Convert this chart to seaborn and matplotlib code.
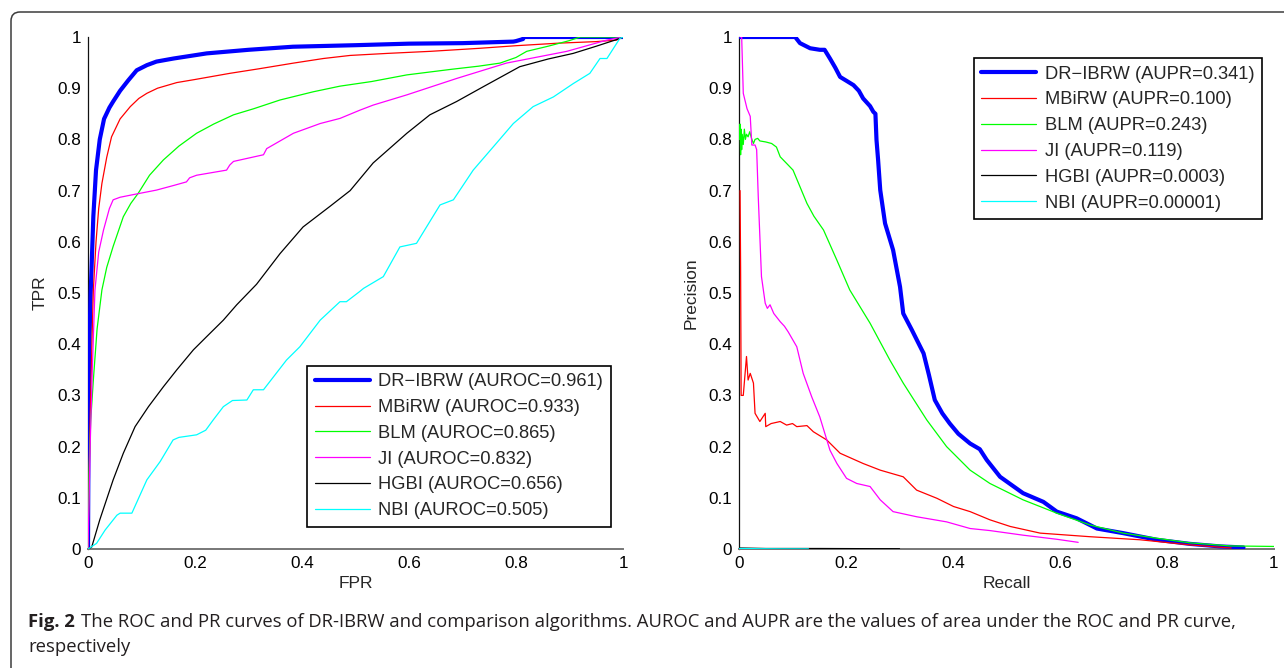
import matplotlib
matplotlib.use("Agg")
import matplotlib.pyplot as plt
import seaborn as sns
import numpy as np
import pandas as pd
from matplotlib.patches import FancyBboxPatch
from matplotlib.transforms import IdentityTransform

# ---------------- data ----------------
methods = ["DR\u2212IBRW", "MBiRW", "BLM", "JI", "HGBI", "NBI"]
auroc_labels = ["0.961", "0.933", "0.865", "0.832", "0.656", "0.505"]
aupr_labels = ["0.341", "0.100", "0.243", "0.119", "0.0003", "0.00001"]
colors = ["#0000FF", "#FF0000", "#00FF00", "#FF00FF", "#000000", "#00FFFF"]

# ROC curves (FPR, TPR)
roc_dribrw_x = [0, 0.001, 0.003, 0.005, 0.007, 0.010, 0.015, 0.022, 0.030, 0.040, 0.047, 0.060, 0.075, 0.091,
                0.110, 0.128, 0.160, 0.222, 0.300, 0.383, 0.500, 0.600, 0.700, 0.795, 0.800, 0.813, 0.815, 1.0]
roc_dribrw_y = [0, 0.25, 0.42, 0.50, 0.56, 0.65, 0.74, 0.80, 0.84, 0.862, 0.874, 0.895, 0.915, 0.935,
                0.945, 0.952, 0.958, 0.968, 0.975, 0.981, 0.984, 0.987, 0.988, 0.991, 0.992, 0.996, 1.0, 1.0]

roc_mbirw_x = [0, 0.002, 0.005, 0.008, 0.010, 0.015, 0.020, 0.026, 0.035, 0.044, 0.060, 0.079, 0.095, 0.110,
               0.130, 0.166, 0.200, 0.265, 0.320, 0.384, 0.440, 0.490, 0.560, 0.640, 0.733, 0.800, 0.880,
               0.950, 0.988, 1.0]
roc_mbirw_y = [0, 0.15, 0.30, 0.43, 0.506, 0.60, 0.665, 0.714, 0.765, 0.805, 0.840, 0.864, 0.880, 0.890,
               0.900, 0.911, 0.917, 0.929, 0.938, 0.949, 0.958, 0.964, 0.968, 0.972, 0.978, 0.983, 0.988,
               0.991, 0.994, 1.0]

roc_blm_x = [0, 0.002, 0.005, 0.010, 0.017, 0.026, 0.035, 0.047, 0.066, 0.080, 0.094, 0.115, 0.141, 0.170,
             0.203, 0.235, 0.272, 0.310, 0.359, 0.421, 0.471, 0.530, 0.596, 0.680, 0.730, 0.770, 0.800,
             0.820, 0.860, 0.900, 0.920, 1.0]
roc_blm_y = [0, 0.15, 0.25, 0.33, 0.43, 0.506, 0.55, 0.591, 0.649, 0.675, 0.695, 0.730, 0.760, 0.787,
             0.812, 0.830, 0.848, 0.860, 0.877, 0.893, 0.904, 0.913, 0.926, 0.937, 0.943, 0.949, 0.960,
             0.972, 0.982, 0.993, 1.0, 1.0]

roc_ji_x = [0, 0.004, 0.008, 0.013, 0.020, 0.029, 0.040, 0.047, 0.060, 0.079, 0.128, 0.160, 0.184, 0.190,
            0.203, 0.259, 0.265, 0.272, 0.328, 0.334, 0.384, 0.434, 0.471, 0.508, 0.533, 0.596, 0.689,
            0.782, 0.895, 0.970, 1.0]
roc_ji_y = [0, 0.20, 0.35, 0.506, 0.58, 0.623, 0.665, 0.682, 0.687, 0.691, 0.701, 0.710, 0.717, 0.725,
            0.730, 0.740, 0.750, 0.757, 0.770, 0.782, 0.812, 0.831, 0.841, 0.857, 0.867, 0.887, 0.919,
            0.949, 0.972, 0.994, 1.0]

roc_hgbi_x = [0, 0.007, 0.022, 0.047, 0.066, 0.088, 0.113, 0.141, 0.166, 0.197, 0.222, 0.253, 0.278, 0.315,
              0.359, 0.402, 0.452, 0.490, 0.533, 0.596, 0.639, 0.689, 0.739, 0.807, 0.860, 0.907, 0.950,
              0.994, 1.0]
roc_hgbi_y = [0, 0.004, 0.057, 0.135, 0.187, 0.239, 0.278, 0.317, 0.350, 0.389, 0.415, 0.447, 0.477, 0.517,
              0.577, 0.629, 0.669, 0.700, 0.754, 0.812, 0.848, 0.874, 0.903, 0.942, 0.957, 0.968, 0.982,
              0.997, 1.0]

roc_nbi_x = [0, 0.016, 0.032, 0.054, 0.060, 0.082, 0.110, 0.135, 0.159, 0.170, 0.203, 0.220, 0.234, 0.253,
             0.270, 0.297, 0.309, 0.328, 0.371, 0.396, 0.434, 0.471, 0.483, 0.508, 0.515, 0.552, 0.583,
             0.614, 0.658, 0.683, 0.720, 0.758, 0.795, 0.832, 0.870, 0.907, 0.938, 0.957, 0.970, 0.994, 1.0]
roc_nbi_y = [0, 0.011, 0.037, 0.066, 0.070, 0.070, 0.135, 0.171, 0.213, 0.218, 0.223, 0.232, 0.252, 0.278,
             0.290, 0.291, 0.311, 0.311, 0.369, 0.395, 0.447, 0.483, 0.483, 0.503, 0.509, 0.532, 0.590,
             0.597, 0.672, 0.682, 0.740, 0.786, 0.831, 0.864, 0.883, 0.909, 0.929, 0.958, 0.958, 0.997, 1.0]

# PR curves (Recall, Precision)
pr_dribrw_x = [0.002, 0.105, 0.114, 0.133, 0.151, 0.160, 0.170, 0.180, 0.189, 0.200, 0.214, 0.224, 0.232,
               0.245, 0.251, 0.255, 0.257, 0.260, 0.264, 0.273, 0.288, 0.301, 0.307, 0.323, 0.345, 0.355,
               0.366, 0.380, 0.394, 0.410, 0.432, 0.450, 0.463, 0.488, 0.531, 0.569, 0.594, 0.631, 0.669,
               0.718, 0.781, 0.843, 0.900, 0.943]
pr_dribrw_y = [1.0, 1.0, 0.988, 0.978, 0.975, 0.975, 0.958, 0.940, 0.922, 0.915, 0.906, 0.895, 0.880,
               0.865, 0.854, 0.850, 0.799, 0.760, 0.701, 0.636, 0.584, 0.512, 0.460, 0.428, 0.382, 0.340,
               0.291, 0.265, 0.245, 0.225, 0.206, 0.195, 0.174, 0.141, 0.109, 0.092, 0.073, 0.060, 0.040,
               0.031, 0.018, 0.010, 0.005, 0.003]

pr_mbirw_x = [0.002, 0.003, 0.004, 0.008, 0.014, 0.017, 0.021, 0.027, 0.030, 0.039, 0.049, 0.050, 0.060,
              0.077, 0.089, 0.100, 0.108, 0.127, 0.139, 0.164, 0.189, 0.232, 0.264, 0.307, 0.332, 0.370,
              0.401, 0.432, 0.469, 0.507, 0.563, 0.656, 0.750, 0.843, 0.905, 0.920]
pr_mbirw_y = [0.70, 0.55, 0.30, 0.30, 0.376, 0.33, 0.343, 0.324, 0.265, 0.249, 0.265, 0.239, 0.245,
              0.249, 0.242, 0.245, 0.239, 0.241, 0.229, 0.213, 0.187, 0.167, 0.154, 0.141, 0.115, 0.099,
              0.083, 0.073, 0.057, 0.044, 0.031, 0.024, 0.018, 0.008, 0.003, 0.002]

pr_blm_x = [0.001, 0.002, 0.003, 0.004, 0.005, 0.006, 0.008, 0.010, 0.012, 0.014, 0.017, 0.020, 0.024,
            0.027, 0.030, 0.035, 0.039, 0.050, 0.061, 0.070, 0.077, 0.090, 0.101, 0.115, 0.127, 0.140,
            0.158, 0.183, 0.207, 0.245, 0.282, 0.307, 0.351, 0.388, 0.432, 0.469, 0.531, 0.594, 0.656,
            0.718, 0.781, 0.843, 0.918, 1.0]
pr_blm_y = [0.80, 0.83, 0.77, 0.82, 0.78, 0.81, 0.79, 0.82, 0.80, 0.81, 0.805, 0.815, 0.80, 0.792, 0.80,
            0.802, 0.797, 0.795, 0.792, 0.785, 0.766, 0.752, 0.740, 0.705, 0.675, 0.650, 0.623, 0.564,
            0.506, 0.441, 0.369, 0.324, 0.252, 0.200, 0.154, 0.128, 0.096, 0.070, 0.047, 0.031, 0.021,
            0.012, 0.006, 0.005]

pr_ji_x = [0.002, 0.005, 0.008, 0.015, 0.021, 0.024, 0.030, 0.033, 0.036, 0.042, 0.049, 0.053, 0.058,
           0.065, 0.077, 0.085, 0.092, 0.108, 0.120, 0.136, 0.151, 0.170, 0.183, 0.201, 0.220, 0.245,
           0.264, 0.288, 0.332, 0.388, 0.432, 0.469, 0.531, 0.594, 0.634]
pr_ji_y = [1.0, 1.0, 0.89, 0.86, 0.845, 0.789, 0.789, 0.78, 0.688, 0.532, 0.480, 0.470, 0.477, 0.460,
           0.444, 0.435, 0.424, 0.395, 0.343, 0.297, 0.258, 0.193, 0.167, 0.138, 0.128, 0.122, 0.096,
           0.073, 0.063, 0.053, 0.040, 0.036, 0.027, 0.019, 0.013]

pr_hgbi_x = [0.0, 0.05, 0.10, 0.15, 0.20, 0.25, 0.30]
pr_hgbi_y = [0.002, 0.001, 0.001, 0.001, 0.0008, 0.0006, 0.0005]

pr_nbi_x = [0.0, 0.04, 0.08, 0.13]
pr_nbi_y = [0.001, 0.0005, 0.0003, 0.0002]

xticks = [0, 0.2, 0.4, 0.6, 0.8, 1]
xtick_labels = ["0", "0.2", "0.4", "0.6", "0.8", "1"]
yticks = [0, 0.1, 0.2, 0.3, 0.4, 0.5, 0.6, 0.7, 0.8, 0.9, 1]
ytick_labels = ["0", "0.1", "0.2", "0.3", "0.4", "0.5", "0.6", "0.7", "0.8", "0.9", "1"]

caption_bold = "Fig. 2"
caption_line1 = ("The ROC and PR curves of DR-IBRW and comparison algorithms. AUROC and AUPR are the "
                 "values of area under the ROC and PR curve,")
caption_line2 = "respectively"

roc_series = [(roc_dribrw_x, roc_dribrw_y), (roc_mbirw_x, roc_mbirw_y), (roc_blm_x, roc_blm_y),
              (roc_ji_x, roc_ji_y), (roc_hgbi_x, roc_hgbi_y), (roc_nbi_x, roc_nbi_y)]
pr_series = [(pr_dribrw_x, pr_dribrw_y), (pr_mbirw_x, pr_mbirw_y), (pr_blm_x, pr_blm_y),
             (pr_ji_x, pr_ji_y), (pr_hgbi_x, pr_hgbi_y), (pr_nbi_x, pr_nbi_y)]

# ---------------- style ----------------
sns.set_style("white")
plt.rcParams['font.family'] = ['Liberation Sans', 'DejaVu Sans']
plt.rcParams['axes.unicode_minus'] = True

W, H = 1284, 668
fig = plt.figure(figsize=(W / 100, H / 100), dpi=100)
fig.patch.set_facecolor("white")

# outer rounded frame
frame = FancyBboxPatch((11, -40), 1320, H - 12 + 40, boxstyle="round,pad=0,rounding_size=9",
                       transform=IdentityTransform(), facecolor="none", edgecolor="#3c3c3c",
                       linewidth=1.1, zorder=0)
fig.patches.append(frame)

axw = 535 / W
axh = 512 / H
ax_bottom = 1 - 549 / H
ax1 = fig.add_axes([88 / W, ax_bottom, axw, axh])
ax2 = fig.add_axes([739 / W, ax_bottom, axw, axh])


def style_axes(ax, xlabel, ylabel):
    ax.set_xlim(0, 1)
    ax.set_ylim(0, 1)
    ax.set_facecolor("none")
    for s in ["top", "right"]:
        ax.spines[s].set_visible(False)
    ax.spines["left"].set_color("#111111")
    ax.spines["left"].set_linewidth(0.9)
    ax.spines["bottom"].set_color("#777777")
    ax.spines["bottom"].set_linewidth(1.4)
    ax.set_xticks(xticks)
    ax.set_xticklabels(xtick_labels)
    ax.set_yticks(yticks)
    ax.set_yticklabels(ytick_labels)
    ax.tick_params(axis="both", direction="in", length=4, width=0.8, labelsize=12.3,
                   colors="#333333", labelcolor="black")
    ax.tick_params(axis="x", pad=5)
    ax.tick_params(axis="y", pad=5)
    ax.set_xlabel(xlabel, fontsize=12.5, labelpad=4)
    ax.set_ylabel(ylabel, fontsize=12.5, labelpad=7)
    ax.grid(False)


def draw(ax, series, aname, avals, anchor, loc):
    for i, ((xs, ys), m, c, a) in enumerate(zip(series, methods, colors, avals)):
        df = pd.DataFrame({"x": xs, "y": ys})
        lw = 3.0 if i == 0 else 0.9
        sns.lineplot(data=df, x="x", y="y", sort=False, estimator=None, color=c, linewidth=lw,
                     ax=ax, label=f"{m} ({aname}={a})", zorder=3 + i * 0.1)
    leg = ax.legend(loc=loc, bbox_to_anchor=anchor, fontsize=13.2, frameon=True, fancybox=False,
                    edgecolor="black", framealpha=1, handlelength=3.0, handletextpad=0.45,
                    labelspacing=0.48, borderpad=0.42, borderaxespad=0)
    leg.get_frame().set_linewidth(1.2)
    leg.set_zorder(10)


draw(ax1, roc_series, "AUROC", auroc_labels, (0.9776, 0.043), "lower right")
draw(ax2, pr_series, "AUPR", aupr_labels, (0.9776, 0.959), "upper right")
style_axes(ax1, "FPR", "TPR")
style_axes(ax2, "Recall", "Precision")

# ---------------- caption ----------------
cap_font = ['Open Sans', 'DejaVu Sans']
cap_color = "#231f20"
left_px, right_px = 28, 1233
cap_size = 13.0
t1 = fig.text(left_px / W, 1 - 627 / H, caption_bold, fontsize=cap_size, fontweight="bold",
              family=cap_font, color=cap_color, va="baseline", ha="left")
t2 = fig.text(0, 1 - 627 / H, caption_line1, fontsize=cap_size, family=cap_font,
              color=cap_color, va="baseline", ha="left")
r = fig.canvas.get_renderer()
for _ in range(3):
    t1.set_fontsize(cap_size)
    t2.set_fontsize(cap_size)
    b1 = t1.get_window_extent(renderer=r)
    t2.set_x((b1.x1 + 6) / W)
    b2 = t2.get_window_extent(renderer=r)
    total = b2.x1 - left_px
    cap_size = cap_size * (right_px - left_px) / total
t1.set_fontsize(cap_size)
t2.set_fontsize(cap_size)
b1 = t1.get_window_extent(renderer=r)
t2.set_x((b1.x1 + 6) / W)
t3 = fig.text(left_px / W, 1 - 652 / H, caption_line2, fontsize=cap_size, family=cap_font,
              color=cap_color, va="baseline", ha="left")

fig.savefig("out.png", dpi=100, facecolor="white")
